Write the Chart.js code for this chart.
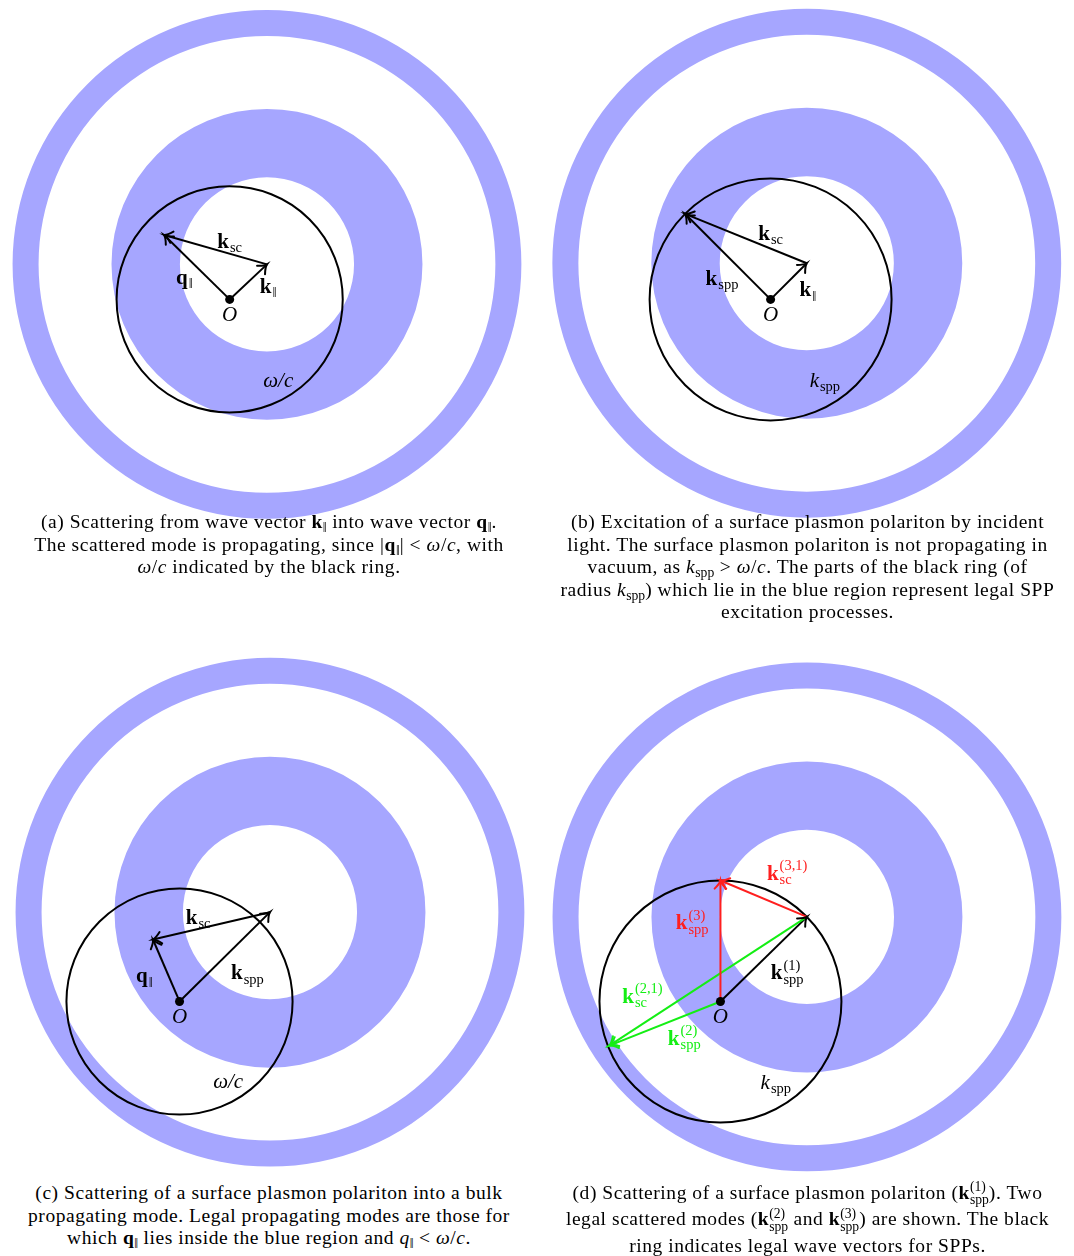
<!DOCTYPE html>
<html>
<head>
<meta charset="utf-8">
<script src="https://cdn.jsdelivr.net/npm/chart.js@4.4.1/dist/chart.umd.min.js"></script>
<style>
  html, body { margin: 0; padding: 0; background: #fff; }
  #page { position: relative; width: 1074px; height: 1256px; overflow: hidden; }
  #page canvas { position: absolute; }
  .cap {
    position: absolute; text-align: center; color: #000; white-space: nowrap;
    font-family: "Liberation Serif", "Times New Roman", serif;
    font-size: 19.5px; line-height: 22.5px; letter-spacing: 0.55px;
  }
  .cap sub { font-size: 70%; vertical-align: -0.3em; line-height: 0; letter-spacing: 0; }
  .cap .ss {
    display: inline-block; font-size: 70%; line-height: 0.95; letter-spacing: 0;
    vertical-align: -0.4em; text-align: left;
  }
  .cap .ss span { display: block; }
</style>
</head>
<body>
<div id="page">
  <canvas id="pa" width="537" height="530" style="left:0;top:0"></canvas>
  <canvas id="pb" width="537" height="530" style="left:537px;top:0"></canvas>
  <canvas id="pc" width="537" height="535" style="left:0;top:645px"></canvas>
  <canvas id="pd" width="537" height="535" style="left:537px;top:645px"></canvas>

  <div class="cap" style="left:0;width:538px;top:511px">
    (a) Scattering from wave vector <b>k</b><sub>‖</sub> into wave vector <b>q</b><sub>‖</sub>.<br>
    The scattered mode is propagating, since |<b>q</b><sub>‖</sub>| &lt; <i>ω</i>/<i>c</i>, with<br>
    <i>ω</i>/<i>c</i> indicated by the black ring.
  </div>
  <div class="cap" style="left:541px;width:533px;top:511px">
    (b) Excitation of a surface plasmon polariton by incident<br>
    light. The surface plasmon polariton is not propagating in<br>
    vacuum, as <i>k</i><sub>spp</sub> &gt; <i>ω</i>/<i>c</i>. The parts of the black ring (of<br>
    radius <i>k</i><sub>spp</sub>) which lie in the blue region represent legal SPP<br>
    excitation processes.
  </div>
  <div class="cap" style="left:0;width:538px;top:1182px">
    (c) Scattering of a surface plasmon polariton into a bulk<br>
    propagating mode. Legal propagating modes are those for<br>
    which <b>q</b><sub>‖</sub> lies inside the blue region and <i>q</i><sub>‖</sub> &lt; <i>ω</i>/<i>c</i>.
  </div>
  <div class="cap" style="left:541px;width:533px;top:1181px;line-height:24px">
    (d) Scattering of a surface plasmon polariton (<b>k</b><span class="ss"><span>(1)</span><span>spp</span></span>). Two<br>
    legal scattered modes (<b>k</b><span class="ss"><span>(2)</span><span>spp</span></span> and <b>k</b><span class="ss"><span>(3)</span><span>spp</span></span>) are shown. The black<br>
    ring indicates legal wave vectors for SPPs.
  </div>
</div>

<script>
// Wave-vector magnitudes, in units of omega/c
const omegaOverC = 1.0;
const kSppMag = 1.07;
// Radii of the blue regions about their centre: hole, disk edge, outer ring inner and outer edge
const bandRadii = [0.77, 1.375, 2.02, 2.25];

// (a) scattering into a propagating mode
const kParA = [0.33, 0.31];
const qParA = [-0.58, 0.57];
// (b) excitation of an SPP
const kParB = [0.32, 0.32];
const kSppB = [-0.757, 0.757];
// (c) SPP scattered into a bulk mode
const kSppC = [0.80, 0.79];
const qParC = [-0.235, 0.548];
// (d) SPP scattered into other SPPs
const kSpp1D = [0.765, 0.748];
const kSpp2D = [-0.983, -0.39];
const kSpp3D = [0.0, 1.07];

const BLUE = '#a6a6ff';
const BLACK = '#000000';
const RED = '#ff1f1f';
const GREEN = '#14ee14';
const SERIF = '"Liberation Serif", "Times New Roman", serif';
const PX_PER_UNIT = 115;

const pt = v => ({ x: v[0], y: v[1] });
const ORIGIN = [0, 0];

function vector(from, to, color) {
  return {
    data: [pt(from), pt(to)], showLine: true, borderColor: color, borderWidth: 2,
    pointRadius: 0, fill: false, arrowHead: true
  };
}
const originDot = {
  data: [pt(ORIGIN)], pointRadius: 4.5, backgroundColor: BLACK, borderWidth: 0, showLine: false
};

function drawLabel(ctx, X, Y, lb) {
  const size = 21, small = 14.5;
  const mainFont = (lb.italic ? 'italic ' : '') + (lb.bold ? 'bold ' : '') + size + 'px ' + SERIF;
  const smallFont = small + 'px ' + SERIF;
  ctx.font = mainFont;
  const w0 = ctx.measureText(lb.text).width;
  ctx.font = smallFont;
  const ws = lb.sub ? ctx.measureText(lb.sub).width : 0;
  const wp = lb.sup ? ctx.measureText(lb.sup).width : 0;
  const total = w0 + Math.max(ws, wp) + ((lb.sub || lb.sup) ? 1 : 0);
  const left = X - total / 2;
  const base = Y + size * 0.33;
  ctx.fillStyle = lb.color || BLACK;
  ctx.textAlign = 'left';
  ctx.textBaseline = 'alphabetic';
  ctx.font = mainFont;
  ctx.fillText(lb.text, left, base);
  ctx.font = smallFont;
  if (lb.sub) ctx.fillText(lb.sub, left + w0 + 1, base + size * 0.22);
  if (lb.sup) ctx.fillText(lb.sup, left + w0 + 1, base - size * 0.45);
}

// Blue regions, black ring, arrow heads and vector labels
const diagramPlugin = {
  id: 'diagram',
  beforeDatasetsDraw(chart) {
    const o = chart.options.plugins.diagram;
    const { ctx, scales: { x, y } } = chart;
    const unit = x.getPixelForValue(1) - x.getPixelForValue(0);
    const cx = x.getPixelForValue(o.bandCentre[0]);
    const cy = y.getPixelForValue(o.bandCentre[1]);
    ctx.save();
    ctx.fillStyle = BLUE;
    [[bandRadii[0], bandRadii[1]], [bandRadii[2], bandRadii[3]]].forEach(([r0, r1]) => {
      ctx.beginPath();
      ctx.arc(cx, cy, r1 * unit, 0, 2 * Math.PI, false);
      ctx.moveTo(cx + r0 * unit, cy);
      ctx.arc(cx, cy, r0 * unit, 0, 2 * Math.PI, true);
      ctx.fill();
    });
    ctx.beginPath();
    ctx.lineWidth = 2;
    ctx.strokeStyle = BLACK;
    ctx.arc(x.getPixelForValue(0), y.getPixelForValue(0), o.ringRadius * unit, 0, 2 * Math.PI);
    ctx.stroke();
    ctx.restore();
  },
  afterDatasetsDraw(chart) {
    const o = chart.options.plugins.diagram;
    const { ctx, scales: { x, y } } = chart;
    ctx.save();
    chart.data.datasets.forEach((ds, i) => {
      if (!ds.arrowHead) return;
      const pts = chart.getDatasetMeta(i).data;
      const a = pts[pts.length - 2], b = pts[pts.length - 1];
      const ang = Math.atan2(b.y - a.y, b.x - a.x);
      const L = 10, th = 0.62;
      ctx.strokeStyle = ds.borderColor;
      ctx.lineWidth = 2;
      ctx.lineCap = 'round';
      ctx.beginPath();
      ctx.moveTo(b.x - L * Math.cos(ang - th), b.y - L * Math.sin(ang - th));
      ctx.quadraticCurveTo(b.x - 3 * Math.cos(ang - 0.2), b.y - 3 * Math.sin(ang - 0.2), b.x, b.y);
      ctx.quadraticCurveTo(b.x - 3 * Math.cos(ang + 0.2), b.y - 3 * Math.sin(ang + 0.2),
        b.x - L * Math.cos(ang + th), b.y - L * Math.sin(ang + th));
      ctx.stroke();
    });
    o.labels.forEach(lb => drawLabel(ctx, x.getPixelForValue(lb.at[0]), y.getPixelForValue(lb.at[1]), lb));
    ctx.restore();
  }
};

function makePanel(id, originPx, datasets, diagram) {
  const canvas = document.getElementById(id);
  const w = canvas.width, h = canvas.height;
  const [ox, oy] = originPx;
  return new Chart(canvas, {
    type: 'scatter',
    data: { datasets },
    options: {
      responsive: false, animation: false, devicePixelRatio: 1, events: [],
      layout: { padding: 0 },
      scales: {
        x: { type: 'linear', display: false, min: -ox / PX_PER_UNIT, max: (w - ox) / PX_PER_UNIT },
        y: { type: 'linear', display: false, min: -(h - oy) / PX_PER_UNIT, max: oy / PX_PER_UNIT }
      },
      plugins: { legend: { display: false }, tooltip: { enabled: false }, diagram }
    },
    plugins: [diagramPlugin]
  });
}

const PAR = '‖';

makePanel('pa', [229, 300], [
  originDot,
  vector(kParA, qParA, BLACK),
  vector(ORIGIN, qParA, BLACK),
  vector(ORIGIN, kParA, BLACK)
], {
  bandCentre: kParA, ringRadius: omegaOverC,
  labels: [
    { at: [0.0, 0.52], text: 'k', bold: true, sub: 'sc' },
    { at: [-0.40, 0.20], text: 'q', bold: true, sub: PAR },
    { at: [0.34, 0.12], text: 'k', bold: true, sub: PAR },
    { at: [0.0, -0.13], text: 'O', italic: true },
    { at: [0.43, -0.71], text: 'ω/c', italic: true }
  ]
});

makePanel('pb', [233, 300], [
  originDot,
  vector(kParB, kSppB, BLACK),
  vector(ORIGIN, kSppB, BLACK),
  vector(ORIGIN, kParB, BLACK)
], {
  bandCentre: kParB, ringRadius: kSppMag,
  labels: [
    { at: [0.0, 0.59], text: 'k', bold: true, sub: 'sc' },
    { at: [-0.43, 0.19], text: 'k', bold: true, sub: 'spp' },
    { at: [0.33, 0.09], text: 'k', bold: true, sub: PAR },
    { at: [0.0, -0.13], text: 'O', italic: true },
    { at: [0.48, -0.71], text: 'k', italic: true, sub: 'spp' }
  ]
});

makePanel('pc', [178, 358], [
  originDot,
  vector(kSppC, qParC, BLACK),
  vector(ORIGIN, qParC, BLACK),
  vector(ORIGIN, kSppC, BLACK)
], {
  bandCentre: kSppC, ringRadius: omegaOverC,
  labels: [
    { at: [0.165, 0.75], text: 'k', bold: true, sub: 'sc' },
    { at: [-0.31, 0.23], text: 'q', bold: true, sub: PAR },
    { at: [0.60, 0.26], text: 'k', bold: true, sub: 'spp' },
    { at: [0.0, -0.13], text: 'O', italic: true },
    { at: [0.43, -0.70], text: 'ω/c', italic: true }
  ]
});

makePanel('pd', [182, 358], [
  originDot,
  vector(ORIGIN, kSpp3D, RED),
  vector(kSpp1D, kSpp3D, RED),
  vector(kSpp1D, kSpp2D, GREEN),
  vector(ORIGIN, kSpp2D, GREEN),
  vector(ORIGIN, kSpp1D, BLACK)
], {
  bandCentre: kSpp1D, ringRadius: kSppMag,
  labels: [
    { at: [0.59, 1.14], text: 'k', bold: true, sub: 'sc', sup: '(3,1)', color: RED },
    { at: [-0.25, 0.70], text: 'k', bold: true, sub: 'spp', sup: '(3)', color: RED },
    { at: [0.59, 0.26], text: 'k', bold: true, sub: 'spp', sup: '(1)' },
    { at: [-0.69, 0.05], text: 'k', bold: true, sub: 'sc', sup: '(2,1)', color: GREEN },
    { at: [-0.32, -0.32], text: 'k', bold: true, sub: 'spp', sup: '(2)', color: GREEN },
    { at: [0.0, -0.13], text: 'O', italic: true },
    { at: [0.49, -0.71], text: 'k', italic: true, sub: 'spp' }
  ]
});
</script>
</body>
</html>
